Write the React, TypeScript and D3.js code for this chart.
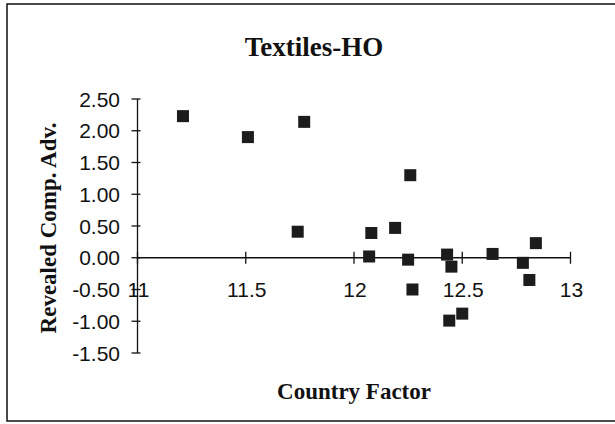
import React from "react";
import * as d3 from "d3";

const countryFactor = [11.21, 11.51, 11.77, 11.74, 12.08, 12.19, 12.26, 12.07, 12.25, 12.43, 12.45, 12.27, 12.44, 12.5, 12.64, 12.78, 12.81, 12.84];
const revealedCompAdv = [2.23, 1.9, 2.14, 0.41, 0.39, 0.47, 1.3, 0.02, -0.03, 0.05, -0.14, -0.5, -0.99, -0.88, 0.06, -0.08, -0.35, 0.23];
const xTicks = [11, 11.5, 12, 12.5, 13];
const xTickLabels = ["11", "11.5", "12", "12.5", "13"];
const yTicks = [2.5, 2, 1.5, 1, 0.5, 0, -0.5, -1, -1.5];
const yTickLabels = ["2.50", "2.00", "1.50", "1.00", "0.50", "0.00", "-0.50", "-1.00", "-1.50"];

const W = 615;
const H = 424;

export default function App() {
  const x = d3.scaleLinear().domain([11, 13]).range([137.5, 570.5]);
  const y = d3.scaleLinear().domain([-1.5, 2.5]).range([353, 99]);
  const serif = "'Liberation Serif', 'Times New Roman', serif";
  const sans = "'Liberation Sans', Arial, sans-serif";
  const ink = "#111";
  const ms = 12;
  return (
    <svg width={W} height={H} style={{ position: "fixed", left: 0, top: 0, background: "#fff" }}>
      <rect x={7} y={4} width={620} height={417} fill="#fff" stroke={ink} strokeWidth={1.5} />
      <text x={314} y={56} textAnchor="middle" fontFamily={serif} fontWeight="bold" fontSize={27} fill={ink}>
        Textiles-HO
      </text>
      {/* y axis */}
      <line x1={x(11)} x2={x(11)} y1={y(2.5)} y2={y(-1.5)} stroke={ink} strokeWidth={1.3} />
      {yTicks.map((t, i) => (
        <g key={"y" + i}>
          <line x1={x(11) - 6} x2={x(11) + 3} y1={y(t)} y2={y(t)} stroke={ink} strokeWidth={1.3} />
          <text x={120} y={y(t) + 7.5} textAnchor="end" fontFamily={sans} fontSize={21} fill={ink}>
            {yTickLabels[i]}
          </text>
        </g>
      ))}
      {/* x axis */}
      <line x1={x(11)} x2={x(13)} y1={y(0)} y2={y(0)} stroke={ink} strokeWidth={1.3} />
      {xTicks.map((t, i) => (
        <g key={"x" + i}>
          <line x1={x(t)} x2={x(t)} y1={y(0) - 6} y2={y(0) + 6} stroke={ink} strokeWidth={1.3} />
          <text x={x(t) + 1} y={y(0) + 39} textAnchor="middle" fontFamily={sans} fontSize={21} fill={ink}>
            {xTickLabels[i]}
          </text>
        </g>
      ))}
      {/* points */}
      {countryFactor.map((cf, i) => (
        <rect
          key={"p" + i}
          x={x(cf) - ms / 2}
          y={y(revealedCompAdv[i]) - ms / 2}
          width={ms}
          height={ms}
          fill="#1c1c1c"
        />
      ))}
      <text x={354} y={399} textAnchor="middle" fontFamily={serif} fontWeight="bold" fontSize={23} fill={ink}>
        Country Factor
      </text>
      <text
        transform={`translate(56,${228}) rotate(-90)`}
        textAnchor="middle"
        fontFamily={serif}
        fontWeight="bold"
        fontSize={23}
        fill={ink}
      >
        Revealed Comp. Adv.
      </text>
    </svg>
  );
}
